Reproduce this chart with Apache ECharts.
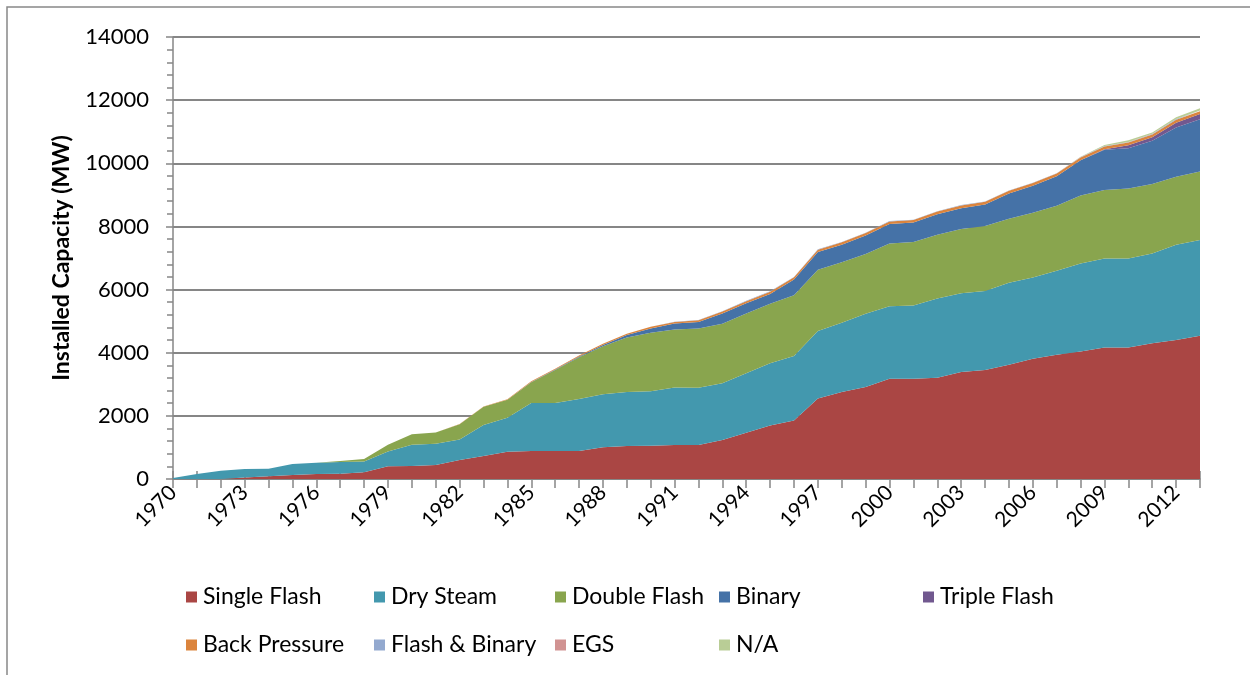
<!DOCTYPE html>
<html>
<head>
<meta charset="utf-8">
<script src="https://cdn.jsdelivr.net/npm/echarts@6/dist/echarts.min.js"></script>
<style>
  html, body { margin: 0; padding: 0; background: #fff; }
  #chart { width: 1250px; height: 675px; }
</style>
</head>
<body>
<div id="chart"></div>
<script>
// years on the category axis
let years = [];
for (let y = 1970; y <= 2013; y++) years.push(String(y));

// installed capacity per plant type (MW)
let singleFlash = [0, 0, 0, 50, 84, 126, 158, 168, 210, 400, 410, 442, 605, 728, 865, 886, 886, 886, 1003, 1045,
    1055, 1077, 1077, 1232, 1463, 1695, 1853, 2547, 2758, 2916, 3179, 3179, 3210, 3390, 3451, 3620, 3810, 3937, 4042, 4169,
    4169, 4296, 4401, 4538];
let drySteam = [30, 160, 263, 266, 242, 348, 358, 369, 348, 474, 675, 674, 650, 982, 1077, 1520, 1520, 1647, 1678, 1710,
    1721, 1825, 1816, 1800, 1884, 1968, 2042, 2137, 2189, 2315, 2295, 2316, 2506, 2497, 2501, 2596, 2575, 2659, 2786, 2818,
    2818, 2849, 3019, 3029];
let doubleFlash = [0, 0, 0, 0, 0, 0, 0, 33, 74, 211, 335, 358, 479, 580, 570, 660, 1050, 1320, 1520, 1730,
    1857, 1837, 1876, 1884, 1895, 1884, 1926, 1947, 1916, 1895, 1989, 2010, 2021, 2034, 2058, 2027, 2048, 2058, 2153, 2164,
    2216, 2195, 2152, 2174];
let binary = [0, 0, 0, 0, 0, 0, 0, 0, 0, 0, 0, 0, 0, 0, 0, 10, 15, 25, 45, 75,
    137, 190, 200, 326, 326, 316, 495, 558, 558, 590, 611, 621, 652, 655, 687, 802, 855, 939, 1119, 1276,
    1277, 1372, 1562, 1657];
let tripleFlash = [0, 0, 0, 0, 0, 0, 0, 0, 0, 0, 0, 0, 0, 0, 0, 0, 0, 0, 0, 0,
    0, 0, 0, 0, 0, 0, 0, 0, 0, 0, 0, 0, 0, 0, 0, 0, 0, 0, 0, 20,
    90, 110, 150, 160];
let backPressure = [0, 0, 0, 0, 0, 0, 0, 0, 0, 0, 0, 0, 5, 10, 15, 20, 25, 30, 35, 40,
    50, 45, 60, 60, 65, 70, 75, 75, 75, 75, 85, 75, 85, 90, 85, 85, 85, 85, 85, 85,
    85, 90, 95, 90];
let flashBinary = [0, 0, 0, 0, 0, 0, 0, 0, 0, 0, 0, 0, 0, 0, 0, 0, 0, 0, 0, 0,
    5, 5, 5, 10, 10, 10, 10, 10, 10, 10, 10, 10, 10, 10, 10, 10, 10, 10, 10, 15,
    15, 15, 20, 20];
let egs = [0, 0, 0, 0, 0, 0, 0, 0, 0, 0, 0, 0, 0, 0, 0, 0, 0, 0, 0, 0,
    0, 0, 0, 0, 0, 0, 0, 0, 0, 0, 0, 0, 0, 0, 0, 0, 0, 0, 2, 3,
    5, 5, 5, 5];
let notAvailable = [0, 0, 0, 0, 0, 0, 0, 0, 0, 0, 0, 0, 0, 0, 0, 0, 0, 0, 0, 0,
    0, 0, 0, 0, 0, 0, 0, 0, 0, 0, 0, 0, 0, 0, 0, 0, 0, 0, 10, 30,
    55, 45, 55, 70];

let seriesNames = ['Single Flash', 'Dry Steam', 'Double Flash', 'Binary', 'Triple Flash',
    'Back Pressure', 'Flash & Binary', 'EGS', 'N/A'];
let seriesData = [singleFlash, drySteam, doubleFlash, binary, tripleFlash,
    backPressure, flashBinary, egs, notAvailable];
let colors = ['#AA4644', '#4398AE', '#89A54E', '#4572A7', '#71588F',
    '#DB843D', '#93A9CF', '#D19392', '#B9CD96'];

let font = 'Lato, "Open Sans", sans-serif';

let series = seriesNames.map(function (name, i) {
    return {
        name: name,
        type: 'line',
        stack: 'Total',
        data: seriesData[i],
        showSymbol: false,
        symbol: 'none',
        lineStyle: { width: 0 },
        areaStyle: { color: colors[i], opacity: 1 },
        itemStyle: { color: colors[i] },
        z: 2
    };
});

// legend columns, placed like the original two-row layout
let legendCols = [
    { left: 181, items: ['Single Flash', 'Back Pressure'] },
    { left: 369, items: ['Dry Steam', 'Flash & Binary'] },
    { left: 550, items: ['Double Flash', 'EGS'] },
    { left: 714, items: ['Binary', 'N/A'] },
    { left: 918, items: ['Triple Flash'] }
];
let legends = legendCols.map(function (c) {
    return {
        left: c.left,
        top: 579,
        orient: 'vertical',
        itemGap: 22,
        itemWidth: 11,
        itemHeight: 11,
        icon: 'rect',
        selectedMode: false,
        data: c.items,
        textStyle: { fontFamily: font, fontSize: 23, color: '#000', lineHeight: 26, padding: [0, 0, 0, 1] }
    };
});

let chart = echarts.init(document.getElementById('chart'));
let option = {
    animation: false,
    color: colors,
    legend: legends,
    grid: { left: 173, right: 50, top: 37, bottom: 196 },
    graphic: [
        {
            type: 'rect',
            shape: { x: 7, y: 7, width: 1400, height: 800 },
            style: { fill: null, stroke: '#888', lineWidth: 1.5 },
            silent: true
        },
        {
            type: 'text',
            x: 5,
            y: -20,
            style: {
                text: 'Figure 4: Installed Geothermal Capacity by Year by Type',
                fontFamily: font, fontSize: 19, fontWeight: 'bold', fill: '#000'
            }
        }
    ],
    xAxis: [
        {
            type: 'category',
            data: years,
            boundaryGap: false,
            axisLine: { lineStyle: { color: '#868686', width: 1.5 } },
            axisTick: { interval: 0, length: 9, lineStyle: { color: '#868686', width: 1.5 } },
            axisLabel: { interval: 2, rotate: 45, margin: 10, fontFamily: font, fontSize: 21, color: '#000' },
            splitLine: { show: false }
        },
        {
            type: 'category',
            data: years,
            boundaryGap: false,
            position: 'bottom',
            axisLine: { show: false },
            axisTick: { inside: true, interval: 0, length: 8, lineStyle: { color: '#868686', width: 1.5 } },
            axisLabel: { show: false },
            splitLine: { show: false }
        }
    ],
    yAxis: [
        {
            type: 'value',
            min: 0,
            max: 14000,
            interval: 2000,
            name: 'Installed Capacity (MW)',
            nameLocation: 'middle',
            nameGap: 100,
            nameTextStyle: { fontFamily: font, fontSize: 23, fontWeight: 'bold', color: '#000' },
            axisLine: { show: true, lineStyle: { color: '#868686', width: 1.5 } },
            axisTick: { show: true, length: 7, lineStyle: { color: '#868686', width: 1.5 } },
            minorTick: { show: true, splitNumber: 5, length: 6, lineStyle: { color: '#868686', width: 1.5 } },
            axisLabel: {
                margin: 24, fontFamily: font, fontSize: 22, color: '#000',
                formatter: function (v) { return String(v); }
            },
            splitLine: { lineStyle: { color: '#868686', width: 2 } }
        },
        {
            type: 'value',
            min: 0,
            max: 14000,
            interval: 2000,
            position: 'left',
            axisLine: { show: false },
            axisTick: { show: false },
            minorTick: { show: true, splitNumber: 5, length: 6, lineStyle: { color: '#868686', width: 1.5 } },
            axisLabel: { show: false },
            splitLine: { show: false }
        }
    ],
    series: series
};
option && chart.setOption(option);
</script>
</body>
</html>
